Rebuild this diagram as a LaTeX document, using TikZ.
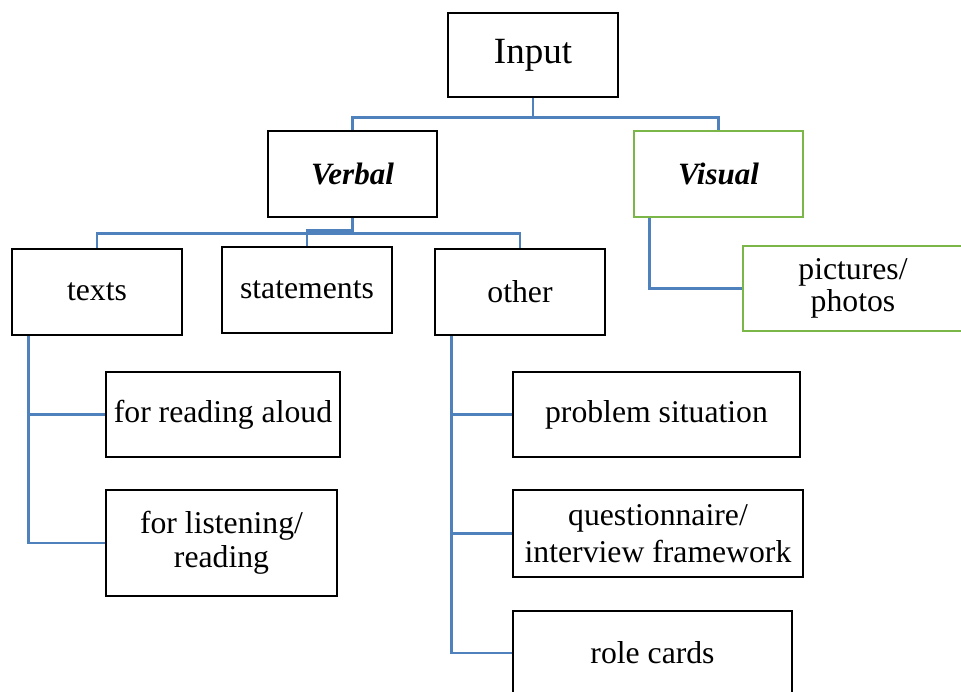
\documentclass[tikz,border=0pt]{standalone}
\usepackage{fontspec}
\setmainfont{Liberation Serif}
\definecolor{lineblue}{RGB}{79,129,189}
\definecolor{boxgreen}{RGB}{122,182,72}
\tikzset{
  box/.style={draw=black, line width=2.7pt, rectangle, inner sep=0pt, align=center,
    font=\fontsize{31.7}{34}\selectfont},
  gbox/.style={box, draw=boxgreen},
  conn/.style={draw=lineblue, line width=2.6pt},
}
\begin{document}
\begin{tikzpicture}[x=1pt,y=-1pt]
\useasboundingbox (0,0) rectangle (961,692);
\clip (0,0) rectangle (961,692);
\fill[white] (0,0) rectangle (961,692);

\node[box, minimum width=170pt, minimum height=84pt, font=\fontsize{37}{40}\selectfont] (input) at (533,55) {Input};
\node[box, minimum width=169pt, minimum height=86pt, font=\fontsize{31}{35}\selectfont\bfseries\itshape] (verbal) at (352.5,174) {Verbal};
\node[gbox, minimum width=169pt, minimum height=86pt, font=\fontsize{31}{35}\selectfont\bfseries\itshape] (visual) at (718.5,174) {Visual};

\node[box, minimum width=170pt, minimum height=86pt] (texts) at (97,292) {texts};
\node[box, minimum width=170pt, minimum height=86pt] (statements) at (307,290) {statements};
\node[box, minimum width=170pt, minimum height=86pt] (other) at (520,292) {other};
\node[gbox, minimum width=220pt, minimum height=85pt, font=\fontsize{31.7}{32}\selectfont] (pictures) at (853,288.5) {pictures/\\photos};

\node[box, minimum width=234pt, minimum height=85pt] (aloud) at (223,414.5) {for reading aloud};
\node[box, minimum width=231pt, minimum height=106pt] (listen) at (221.5,543) {for listening/\\reading};

\node[box, minimum width=287pt, minimum height=85pt] (problem) at (656.5,414.5) {problem situation};
\node[box, minimum width=290pt, minimum height=87pt, font=\fontsize{31.7}{37}\selectfont] (quest) at (658,533.5) {questionnaire/\\interview framework};
\node[box, minimum width=279pt, minimum height=84pt] (role) at (652.5,653) {role cards};

% connectors
\draw[conn] (input.south) -- ++(0,19) -| (verbal.north);
\draw[conn] (input.south) -- ++(0,19) -| (visual.north);

\draw[conn] (verbal.south) -- ++(0,12) -| (statements.north);
\draw[conn] (verbal.south) -- ++(0,15) -| (texts.north);
\draw[conn] (verbal.south) -- ++(0,15) -| (other.north);

\draw[conn] ([xshift=17pt]visual.south west) |- (pictures.west);

\draw[conn] ([xshift=18pt]texts.south west) |- (aloud.west);
\draw[conn] ([xshift=18pt]texts.south west) |- (listen.west);

\draw[conn] ([xshift=18pt]other.south west) |- (problem.west);
\draw[conn] ([xshift=18pt]other.south west) |- (quest.west);
\draw[conn] ([xshift=18pt]other.south west) |- (role.west);
\end{tikzpicture}
\end{document}
